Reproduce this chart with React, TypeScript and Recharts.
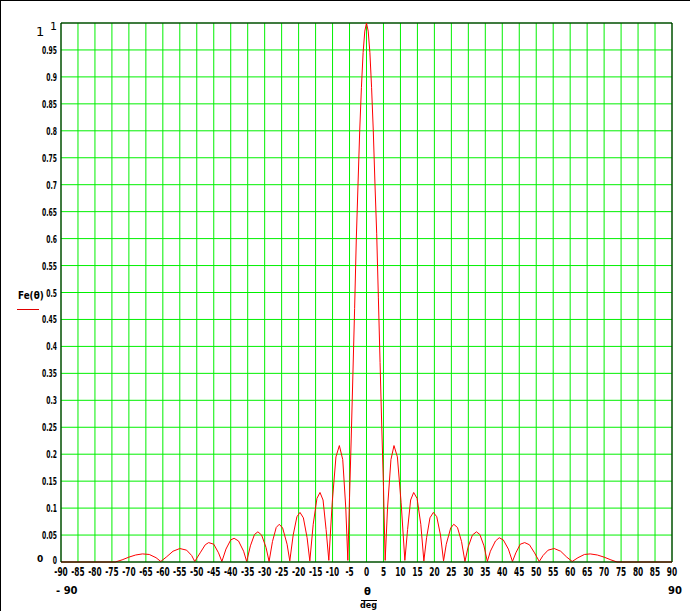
import { LineChart, Line, XAxis, YAxis, CartesianGrid, ReferenceLine } from "recharts";

// angle in degrees, normalized array factor
const angles = [
  -90, -80, -74, -72, -70, -68, -66, -64, -62, -60.6,
  -59, -57, -55, -53, -51.5, -50.6,
  -49, -47.5, -46.5, -45, -43.6, -42.6,
  -41.4, -40, -39, -37.7, -36.2, -35.3,
  -34.2, -33, -32, -30.9, -29.6, -28.7,
  -27.7, -26.6, -25.7, -24.7, -23.4, -22.6,
  -21.6, -20.5, -19.6, -18.6, -17.5, -16.7,
  -15.7, -14.6, -13.7, -12.8, -11.9, -11.1,
  -10.1, -9, -8, -7, -6.1, -5.5,
  -5, -4.5, -4, -3.5, -3, -2.5, -2, -1.5, -1, -0.5, 0,
  0.5, 1, 1.5, 2, 2.5, 3, 3.5, 4, 4.5, 5, 5.5,
  6.2, 7.2, 8.1, 9.1, 10.2, 11.3,
  12.1, 13, 13.9, 14.9, 16, 16.9,
  17.7, 18.7, 19.7, 20.7, 21.8, 22.7,
  23.5, 24.8, 25.7, 26.8, 28, 29,
  29.9, 31.2, 32.4, 33.4, 34.6, 35.6,
  36.5, 38, 39.1, 40.3, 41.8, 43,
  44, 45.3, 46.6, 48, 49.5, 50.9,
  52, 53.5, 55.3, 57.2, 59, 60.6,
  62.3, 64.2, 65.9, 68, 70, 72, 73.8, 80, 90,
];
const fe = [
  0, 0, 0, 0.004, 0.009, 0.013, 0.015, 0.014, 0.008, 0.001,
  0.009, 0.02, 0.025, 0.022, 0.012, 0.001,
  0.017, 0.032, 0.036, 0.033, 0.017, 0.001,
  0.024, 0.041, 0.044, 0.039, 0.02, 0.001,
  0.03, 0.051, 0.056, 0.05, 0.027, 0.001,
  0.038, 0.064, 0.07, 0.063, 0.033, 0.002,
  0.05, 0.084, 0.092, 0.082, 0.045, 0.002,
  0.07, 0.118, 0.129, 0.115, 0.06, 0.003,
  0.11, 0.195, 0.216, 0.19, 0.1, 0.003,
  0.12, 0.23, 0.35, 0.47, 0.6, 0.7, 0.8, 0.88, 0.945, 0.985, 1,
  0.985, 0.945, 0.88, 0.8, 0.7, 0.61, 0.49, 0.37, 0.25, 0.14, 0.003,
  0.1, 0.19, 0.216, 0.195, 0.11, 0.003,
  0.06, 0.115, 0.129, 0.118, 0.07, 0.002,
  0.045, 0.082, 0.092, 0.084, 0.05, 0.002,
  0.033, 0.063, 0.07, 0.064, 0.038, 0.001,
  0.027, 0.05, 0.056, 0.051, 0.03, 0.001,
  0.02, 0.039, 0.045, 0.041, 0.024, 0.001,
  0.017, 0.033, 0.036, 0.032, 0.017, 0.001,
  0.012, 0.022, 0.025, 0.02, 0.009, 0.001,
  0.008, 0.014, 0.015, 0.013, 0.009, 0.004, 0, 0, 0,
];

const xTicks = [
  -90, -85, -80, -75, -70, -65, -60, -55, -50, -45, -40, -35, -30, -25, -20, -15, -10, -5,
  0, 5, 10, 15, 20, 25, 30, 35, 40, 45, 50, 55, 60, 65, 70, 75, 80, 85, 90,
];
const yTicks = [
  0, 0.05, 0.1, 0.15, 0.2, 0.25, 0.3, 0.35, 0.4, 0.45, 0.5,
  0.55, 0.6, 0.65, 0.7, 0.75, 0.8, 0.85, 0.9, 0.95, 1,
];

const data = angles.map((a, i) => ({ theta: a, fe: fe[i] }));

const GRID = "#00f000";
const FONT = "'DejaVu Sans', sans-serif";

function XTick(props: any) {
  const { x, payload } = props;
  return (
    <text
      transform={`translate(${x},576) scale(0.62,1)`}
      textAnchor="middle"
      fontFamily={FONT}
      fontWeight="bold"
      fontSize={12}
      fill="#000"
    >
      {payload.value}
    </text>
  );
}

function YTick(props: any) {
  const { y, payload } = props;
  const v = Number(payload.value);
  const top = v > 0.99;
  const bottom = v < 0.01;
  // top label is a plain "1", the rest are the small bold ones
  return (
    <text
      transform={`translate(57,${top ? 30 : bottom ? y + 2 : y + 4}) scale(${top ? 1 : 0.55},1)`}
      textAnchor="end"
      fontFamily={FONT}
      fontWeight={top ? "normal" : "bold"}
      fontSize={11}
      fill="#000"
    >
      {top ? "1" : String(Number(v.toFixed(2)))}
    </text>
  );
}

const abs = (left: number, top: number, extra: any = {}) => ({
  position: "absolute" as const,
  left,
  top,
  fontFamily: FONT,
  color: "#000",
  lineHeight: 1,
  ...extra,
});

export default function App() {
  return (
    <div style={{ position: "absolute", left: 0, top: 0, width: 690, height: 611, background: "#fff", overflow: "hidden" }}>
      {/* window frame edges */}
      <div style={{ position: "absolute", left: 0, top: 0, width: 690, height: 1, background: "#000" }} />
      <div style={{ position: "absolute", left: 0, top: 0, width: 1, height: 611, background: "#000" }} />

      <div style={{ position: "absolute", left: 0, top: 0 }}>
        <LineChart width={690} height={611} data={data} margin={{ top: 23, right: 18, bottom: 29, left: 20 }}>
          <CartesianGrid stroke={GRID} strokeWidth={1} horizontalValues={yTicks} verticalValues={xTicks} />
          <XAxis
            type="number"
            dataKey="theta"
            domain={[-90, 90]}
            ticks={xTicks}
            interval={0}
            tickLine={false}
            axisLine={{ stroke: "#000", strokeWidth: 1 }}
            tick={<XTick />}
            height={20}
          />
          <YAxis
            type="number"
            domain={[0, 1]}
            ticks={yTicks}
            interval={0}
            tickLine={false}
            axisLine={{ stroke: "#000", strokeWidth: 1 }}
            tick={<YTick />}
            width={41}
          />
          <ReferenceLine y={1} stroke="#000" strokeWidth={1} />
          <ReferenceLine x={90} stroke="#000" strokeWidth={1} />
          <Line
            type="linear"
            dataKey="fe"
            stroke="#ff0000"
            strokeWidth={1}
            dot={false}
            isAnimationActive={false}
          />
        </LineChart>
      </div>

      {/* axis limit labels, Mathcad style */}
      <div style={abs(36, 25, { fontSize: 13 })}>1</div>
      <div style={abs(37, 555, { fontSize: 9, fontWeight: "bold" })}>0</div>
      <div style={abs(56, 586, { fontSize: 10, fontWeight: "bold" })}>- 90</div>
      <div style={abs(668, 586, { fontSize: 10, fontWeight: "bold" })}>90</div>

      {/* x axis label */}
      <div style={abs(364, 587, { fontSize: 10, fontWeight: "bold" })}>θ</div>
      <div style={{ position: "absolute", left: 361, top: 600, width: 16, height: 1, background: "#000" }} />
      <div style={abs(360, 602, { fontSize: 8, fontWeight: "bold" })}>deg</div>

      {/* y axis label */}
      <div style={abs(18, 290, { fontSize: 11, fontWeight: "bold", transform: "scaleX(0.8)", transformOrigin: "left" })}>Fe(θ)</div>
      <div style={{ position: "absolute", left: 17, top: 309, width: 22, height: 1, background: "#e00000" }} />
    </div>
  );
}
